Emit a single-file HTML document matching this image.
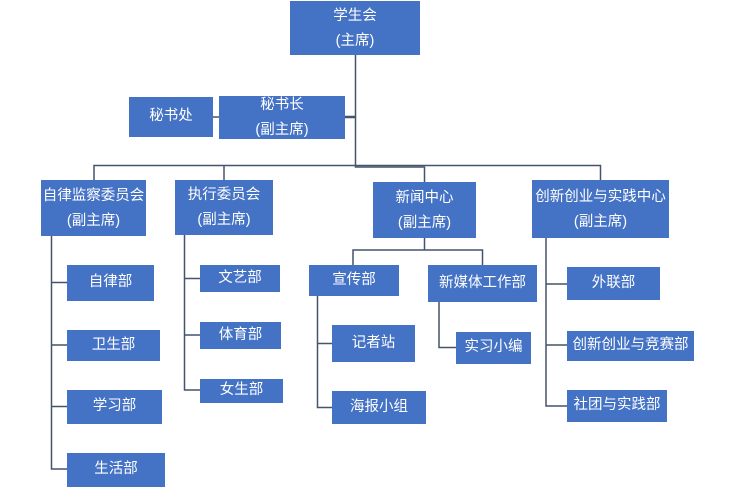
<!DOCTYPE html>
<html>
<head>
<meta charset="utf-8">
<style>
  html,body{margin:0;padding:0;background:#fff;}
  body{width:735px;height:487px;position:relative;overflow:hidden;
       font-family:"Liberation Sans","Noto Sans CJK SC","WenQuanYi Zen Hei",sans-serif;}
  .b{position:absolute;background:#4472C4;color:#fff;font-size:14.5px;
     display:flex;align-items:center;justify-content:center;text-align:center;
     line-height:24px;white-space:nowrap;box-sizing:border-box;}
  .b span{display:block;margin-top:-2px;}
  .b span.t{margin-top:1px;line-height:25px;}
  svg{position:absolute;left:0;top:0;}
</style>
</head>
<body>
<svg width="735" height="487" viewBox="0 0 735 487">
  <g fill="none" stroke="#44546A" stroke-width="1.5">
    <path d="M355.5 55 V167 H424.5 V182"/>
    <path d="M94 180 V165.5 H600.5 V180"/>
    <path d="M224 165.5 V180"/>
    <path d="M213 117 H219"/>
    <path d="M51.5 236 V469 H67 M51.5 282.5 H67 M51.5 345 H67 M51.5 406.5 H67"/>
    <path d="M184.5 235 V390 H200 M184.5 278.5 H200 M184.5 335 H200"/>
    <path d="M424.5 238 V250 M353 265 V250 H482.5 V265"/>
    <path d="M317.5 296 V407.5 H332 M317.5 343.5 H332"/>
    <path d="M439 302 V347.5 H456"/>
    <path d="M546 238 V406 H567 M546 284 H567 M546 345 H567"/>
  </g>
  <path d="M345 117 H355" stroke="#44546A" stroke-width="2.5" fill="none"/>
</svg>

<div class="b" style="left:290px;top:1px;width:130px;height:54px;"><span class="t">学生会<br>(主席)</span></div>
<div class="b" style="left:129px;top:97px;width:84px;height:40px;"><span>秘书处</span></div>
<div class="b" style="left:219px;top:96px;width:126px;height:43px;"><span class="t">秘书长<br>(副主席)</span></div>

<div class="b" style="left:41px;top:180px;width:105px;height:56px;"><span class="t">自律监察委员会<br>(副主席)</span></div>
<div class="b" style="left:175px;top:180px;width:98px;height:55px;"><span class="t">执行委员会<br>(副主席)</span></div>
<div class="b" style="left:373px;top:182px;width:103px;height:56px;"><span class="t">新闻中心<br>(副主席)</span></div>
<div class="b" style="left:532px;top:180px;width:137px;height:58px;"><span class="t">创新创业与实践中心<br>(副主席)</span></div>

<div class="b" style="left:67px;top:265px;width:87px;height:36px;"><span>自律部</span></div>
<div class="b" style="left:67px;top:330px;width:93px;height:31px;"><span>卫生部</span></div>
<div class="b" style="left:67px;top:390px;width:95px;height:34px;"><span>学习部</span></div>
<div class="b" style="left:67px;top:453px;width:98px;height:34px;"><span>生活部</span></div>

<div class="b" style="left:200px;top:265px;width:80px;height:27px;"><span>文艺部</span></div>
<div class="b" style="left:200px;top:322px;width:81px;height:27px;"><span>体育部</span></div>
<div class="b" style="left:200px;top:379px;width:83px;height:24px;"><span>女生部</span></div>

<div class="b" style="left:309px;top:265px;width:90px;height:31px;"><span>宣传部</span></div>
<div class="b" style="left:428px;top:265px;width:109px;height:37px;"><span>新媒体工作部</span></div>
<div class="b" style="left:332px;top:325px;width:83px;height:37px;"><span>记者站</span></div>
<div class="b" style="left:332px;top:391px;width:94px;height:33px;"><span>海报小组</span></div>
<div class="b" style="left:456px;top:332px;width:75px;height:32px;"><span>实习小编</span></div>

<div class="b" style="left:567px;top:267px;width:93px;height:33px;"><span>外联部</span></div>
<div class="b" style="left:567px;top:331px;width:127px;height:30px;"><span>创新创业与竞赛部</span></div>
<div class="b" style="left:567px;top:390px;width:100px;height:32px;"><span>社团与实践部</span></div>
</body>
</html>
